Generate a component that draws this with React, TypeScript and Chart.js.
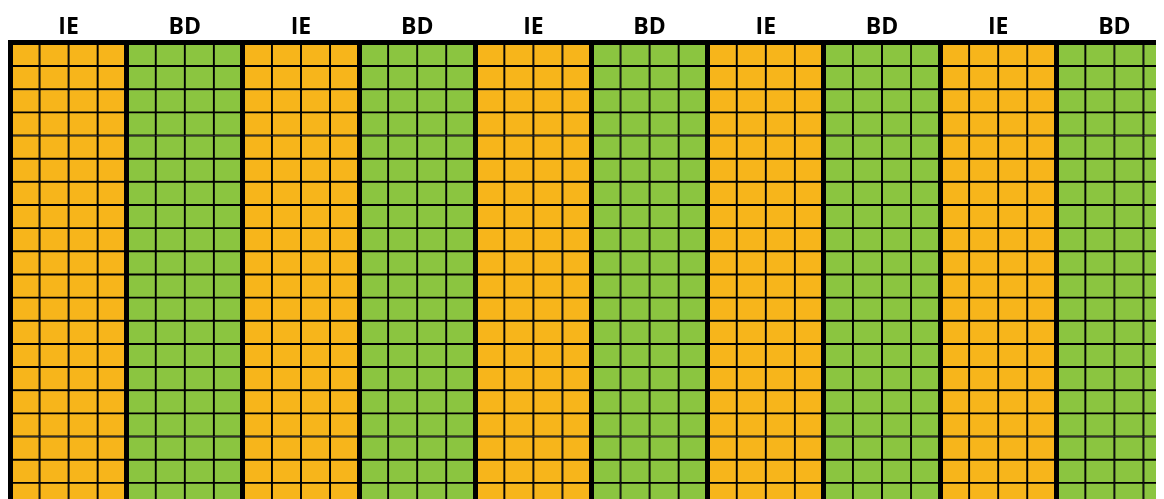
import React, { useEffect, useRef } from 'react';
import { Chart, registerables } from 'chart.js';

Chart.register(...registerables);

// Group labels shown along the top
const groups = ['IE', 'BD', 'IE', 'BD', 'IE', 'BD', 'IE', 'BD', 'IE', 'BD'];
// Sub-columns inside each group
const subColumns = ['a', 'b', 'c', 'd'];
// Rows of cells (stacked)
const rows = [
  'r1', 'r2', 'r3', 'r4', 'r5', 'r6', 'r7', 'r8', 'r9', 'r10',
  'r11', 'r12', 'r13', 'r14', 'r15', 'r16', 'r17', 'r18', 'r19', 'r20',
];
// Every cell has a unit size
const cellValues = [
  1, 1, 1, 1, 1, 1, 1, 1, 1, 1,
  1, 1, 1, 1, 1, 1, 1, 1, 1, 1,
  1, 1, 1, 1, 1, 1, 1, 1, 1, 1,
  1, 1, 1, 1, 1, 1, 1, 1, 1, 1,
];
const groupColors: Record<string, string> = { IE: '#F7B51B', BD: '#8BC540' };

const columns = groups.flatMap((g, gi) => subColumns.map((s) => `${g}${gi + 1}-${s}`));
const columnGroup = groups.flatMap((g) => subColumns.map(() => g));

export default function App() {
  const ref = useRef<HTMLCanvasElement | null>(null);

  useEffect(() => {
    document.body.style.overflow = 'hidden';
    const canvas = ref.current;
    if (!canvas) return;
    const chart = new Chart(canvas, {
      type: 'bar',
      data: {
        labels: columns,
        datasets: rows.map((r) => ({
          label: r,
          data: cellValues,
          xAxisID: 'x',
          yAxisID: 'y',
          backgroundColor: columnGroup.map((g) => groupColors[g]),
          borderColor: '#000000',
          borderWidth: 1.3,
          borderSkipped: false,
          barPercentage: 1,
          categoryPercentage: 1,
          stack: 'cells',
        })),
      },
      options: {
        responsive: false,
        maintainAspectRatio: false,
        animation: false,
        layout: { padding: { left: 2.5, right: 0.5, top: 4.5, bottom: 0 } },
        plugins: {
          legend: { display: false },
          tooltip: { enabled: false },
        },
        scales: {
          x: {
            type: 'category',
            stacked: true,
            offset: true,
            position: 'bottom',
            ticks: { display: false },
            border: { display: false },
            grid: {
              offset: true,
              drawTicks: false,
              z: 1,
              color: (ctx: any) => (ctx.index % 4 === 0 ? '#000000' : 'rgba(0,0,0,0)'),
              lineWidth: (ctx: any) => (ctx.index % 4 === 0 ? 5 : 1),
            },
          },
          x2: {
            type: 'category',
            labels: groups,
            position: 'top',
            offset: true,
            grid: { display: false, drawTicks: false },
            border: { display: true, color: '#000000', width: 5, z: 2 },
            ticks: {
              color: '#000000',
              padding: 1.4,
              font: { family: '"Open Sans", sans-serif', size: 23, weight: 'bold', lineHeight: 1.2 },
            },
          },
          y: {
            stacked: true,
            display: false,
            min: 0,
            max: rows.length,
          },
        },
      },
    });
    return () => chart.destroy();
  }, []);

  return (
    <div style={{ width: 1165, height: 498 }}>
      <canvas ref={ref} width={1165} height={498} style={{ width: 1165, height: 498, display: 'block' }} />
    </div>
  );
}
